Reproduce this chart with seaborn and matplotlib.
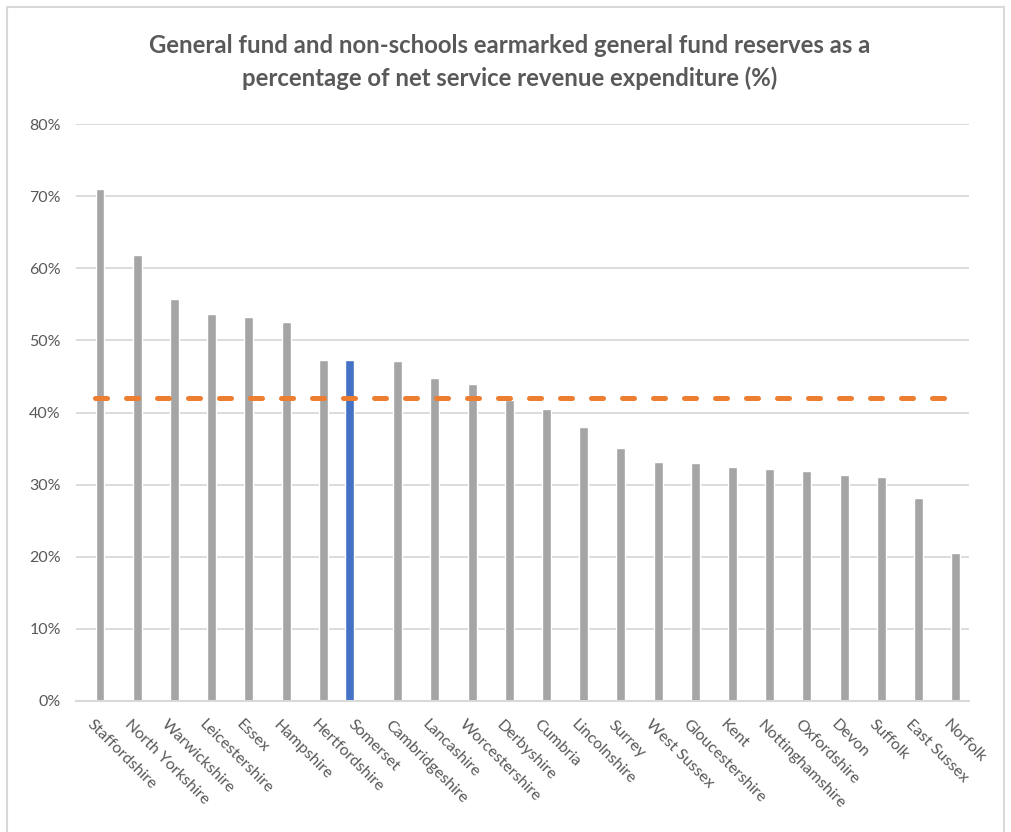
import matplotlib
matplotlib.use("Agg")
import matplotlib.pyplot as plt
from matplotlib.patches import Rectangle
from matplotlib.ticker import FuncFormatter
import seaborn as sns
import pandas as pd

counties = ["Staffordshire", "North Yorkshire", "Warwickshire", "Leicestershire", "Essex",
            "Hampshire", "Hertfordshire", "Somerset", "Cambridgeshire", "Lancashire",
            "Worcestershire", "Derbyshire", "Cumbria", "Lincolnshire", "Surrey",
            "West Sussex", "Gloucestershire", "Kent", "Nottinghamshire", "Oxfordshire",
            "Devon", "Suffolk", "East Sussex", "Norfolk"]
reserves_pct = [71.0, 61.8, 55.8, 53.7, 53.2, 52.6, 47.3, 47.3, 47.2, 44.8,
                44.0, 41.7, 40.5, 38.0, 35.1, 33.1, 33.0, 32.4, 32.1, 31.9,
                31.4, 31.0, 28.1, 20.5]
highlight = "Somerset"
average_pct = [42.0] * len(counties)
y_ticks = [0, 10, 20, 30, 40, 50, 60, 70, 80]
title = ("General fund and non-schools earmarked general fund reserves as a\n"
         "percentage of net service revenue expenditure (%)")

df = pd.DataFrame({
    "county": counties,
    "value": reserves_pct,
    "group": ["Highlighted" if c == highlight else "Other" for c in counties],
})

sns.set_theme(style="white")
plt.rcParams["font.family"] = ["Lato", "DejaVu Sans"]

W, H = 1011, 832
fig = plt.figure(figsize=(W / 100, H / 100), dpi=100)
ax = fig.add_axes([76 / W, 1 - 701 / H, (969 - 76) / W, (701 - 124) / H])

sns.barplot(data=df, x="county", y="value", hue="group",
            hue_order=["Highlighted", "Other"], order=counties,
            palette={"Highlighted": "#4472C4", "Other": "#A5A5A5"},
            width=0.58, gap=0.17, dodge=True, errorbar=None, legend=False,
            saturation=1, ax=ax, zorder=2)

ax.plot(range(len(counties)), average_pct, color="#ED7D31", lw=3.6,
        dashes=(2.4, 3.8), dash_capstyle="round", zorder=3)

ax.set_xlim(-0.5, len(counties) - 0.5)
ax.set_ylim(0, 80)
ax.set_yticks(y_ticks)
ax.yaxis.set_major_formatter(FuncFormatter(lambda v, p: f"{v:.0f}%"))
ax.grid(axis="y", color="#D9D9D9", lw=1.3, zorder=0)
ax.set_axisbelow(True)
for s in ["top", "left", "right"]:
    ax.spines[s].set_visible(False)
ax.spines["bottom"].set_color("#D9D9D9")
ax.spines["bottom"].set_linewidth(1.5)
ax.set_xlabel("")
ax.set_ylabel("")
ax.set_xticks(range(len(counties)))
ax.set_xticklabels(counties, rotation=-45, ha="left", rotation_mode="anchor")
ax.tick_params(axis="x", length=0, pad=12, labelsize=11.5, labelcolor="#595959")
ax.tick_params(axis="y", length=0, pad=11, labelsize=11.5, labelcolor="#595959")

fig.text(510 / W, 1 - 62 / H, title, ha="center", va="center", multialignment="center",
         fontsize=17.2, fontweight="bold", color="#595959", linespacing=1.5)

fig.add_artist(Rectangle((7 / W, -0.02), (1004 - 7) / W, 1.02 - 7 / H,
                         transform=fig.transFigure, fill=False,
                         edgecolor="#D9D9D9", lw=1.5))

fig.savefig("out.png", dpi=100, facecolor="white")
